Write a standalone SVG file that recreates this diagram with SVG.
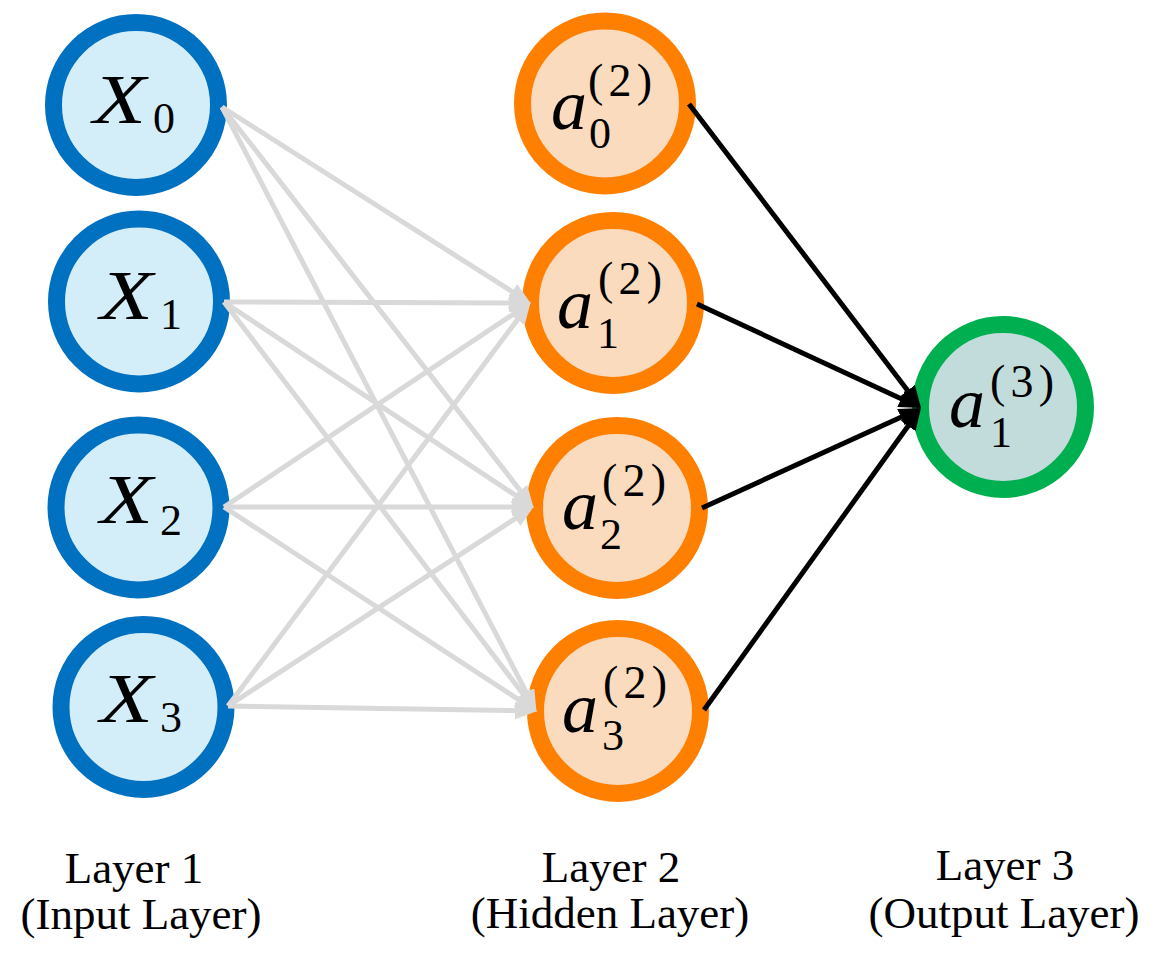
<svg xmlns="http://www.w3.org/2000/svg" width="1154" height="954" viewBox="0 0 1154 954">
<defs>
<marker id="ag" markerUnits="userSpaceOnUse" markerWidth="24" markerHeight="20" refX="14" refY="9" orient="auto" viewBox="0 0 24 20">
<path d="M0,0 L22,9 L0,18 z" fill="#D9D9D9"/>
</marker>
<marker id="ab" markerUnits="userSpaceOnUse" markerWidth="24" markerHeight="20" refX="15" refY="9" orient="auto" viewBox="0 0 24 20">
<path d="M0,0 L22,9 L0,18 z" fill="#000000"/>
</marker>
</defs>
<style>
.in{fill:#D3EEF8;stroke:#0070C0;stroke-width:17}
.hid{fill:#FADBBE;stroke:#FF7F00;stroke-width:17}
.out{fill:#C2DCDB;stroke:#00B050;stroke-width:17}
.mv{font-family:"Liberation Serif",serif;font-style:italic;font-size:70px;fill:#000}
.ma{font-family:"Liberation Serif",serif;font-style:italic;font-size:72px;fill:#000}
.ms{font-family:"Liberation Serif",serif;font-size:44px;fill:#000}
.sp{font-family:"Liberation Serif",serif;font-size:46px;fill:#000}
.lbl{font-family:"Liberation Serif",serif;font-size:45px;fill:#000;text-anchor:middle}
.g{stroke:#D9D9D9;stroke-width:5;fill:none;marker-end:url(#ag)}
.b{stroke:#000;stroke-width:5;fill:none;marker-end:url(#ab)}
</style>
<rect width="1154" height="954" fill="#ffffff"/>
<g id="node-x0"><circle class="in" cx="136" cy="105" r="82.5"/><text class="mv" x="93" y="123" textLength="53" lengthAdjust="spacingAndGlyphs">X</text><text class="ms" x="153" y="133">0</text></g>
<g id="node-x1"><circle class="in" cx="139" cy="301.5" r="82.5"/><text class="mv" x="100" y="319" textLength="53" lengthAdjust="spacingAndGlyphs">X</text><text class="ms" x="160" y="329">1</text></g>
<g id="node-x2"><circle class="in" cx="138.5" cy="507.5" r="82.5"/><text class="mv" x="100" y="523" textLength="53" lengthAdjust="spacingAndGlyphs">X</text><text class="ms" x="160" y="535">2</text></g>
<g id="node-x3"><circle class="in" cx="143.5" cy="707" r="82.5"/><text class="mv" x="100" y="722" textLength="53" lengthAdjust="spacingAndGlyphs">X</text><text class="ms" x="160" y="732">3</text></g>
<g id="node-a0"><circle class="hid" cx="605" cy="103.5" r="82.5"/><text class="ma" x="551" y="129">a</text><text class="sp" x="588" y="96" textLength="64">(2)</text><text class="ms" x="589" y="148">0</text></g>
<g id="node-a1"><circle class="hid" cx="613" cy="303" r="82.5"/><text class="ma" x="557" y="328">a</text><text class="sp" x="598" y="294" textLength="64">(2)</text><text class="ms" x="597" y="348">1</text></g>
<g id="node-a2"><circle class="hid" cx="617" cy="508" r="82.5"/><text class="ma" x="562" y="529">a</text><text class="sp" x="602" y="496" textLength="64">(2)</text><text class="ms" x="600" y="549">2</text></g>
<g id="node-a3"><circle class="hid" cx="618" cy="711" r="82.5"/><text class="ma" x="562" y="732">a</text><text class="sp" x="603" y="698" textLength="64">(2)</text><text class="ms" x="602" y="750">3</text></g>
<g id="node-out"><circle class="out" cx="1003" cy="407" r="82.5"/><text class="ma" x="949" y="427">a</text><text class="sp" x="990" y="397" textLength="64">(3)</text><text class="ms" x="990" y="447">1</text></g>
<g id="connectors">
<line class="g" x1="222" y1="107" x2="524.1" y2="299.2"/>
<line class="g" x1="222" y1="107" x2="528.7" y2="501.5"/>
<line class="g" x1="222" y1="107" x2="532.8" y2="704.8"/>
<line class="g" x1="224" y1="302" x2="523" y2="303"/>
<line class="g" x1="224" y1="302" x2="527.2" y2="503.1"/>
<line class="g" x1="224" y1="302" x2="531.8" y2="705.4"/>
<line class="g" x1="224" y1="507" x2="524.2" y2="306.9"/>
<line class="g" x1="224" y1="507" x2="526" y2="507"/>
<line class="g" x1="224" y1="507" x2="530.1" y2="707.2"/>
<line class="g" x1="228" y1="706" x2="525.8" y2="308.6"/>
<line class="g" x1="228" y1="706" x2="527.1" y2="510.8"/>
<line class="g" x1="228" y1="706" x2="529" y2="710.9"/>
<line class="b" x1="689" y1="104" x2="916.8" y2="402.4"/>
<line class="b" x1="697" y1="304" x2="914.7" y2="405.1"/>
<line class="b" x1="702" y1="508" x2="914.6" y2="410.9"/>
<line class="b" x1="704" y1="710" x2="916.9" y2="413.7"/>
</g>
<g id="labels">
<text class="lbl" x="134" y="883">Layer 1</text>
<text class="lbl" x="141" y="929">(Input Layer)</text>
<text class="lbl" x="611" y="882">Layer 2</text>
<text class="lbl" x="610" y="928">(Hidden Layer)</text>
<text class="lbl" x="1005" y="880">Layer 3</text>
<text class="lbl" x="1004" y="928">(Output Layer)</text>
</g>
</svg>
